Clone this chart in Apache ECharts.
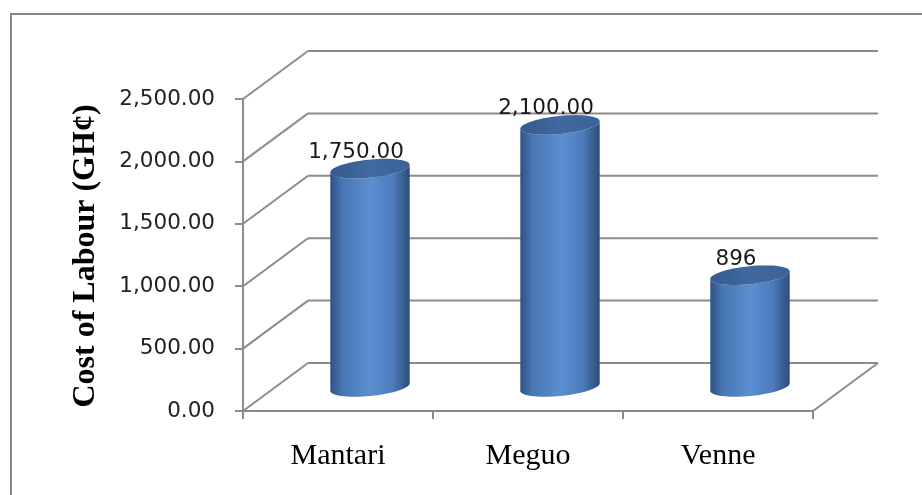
<!DOCTYPE html>
<html>
<head>
<meta charset="utf-8">
<script src="https://cdn.jsdelivr.net/npm/echarts@6/dist/echarts.min.js"></script>
<style>
html,body{margin:0;padding:0;background:#fff;}
#chart{width:922px;height:495px;}
</style>
</head>
<body>
<div id="chart"></div>
<script>
// ---- data ----
var categories = ['Mantari', 'Meguo', 'Venne'];
var costValues = [1750, 2100, 896];
var dataLabels = ['1,750.00', '2,100.00', '896'];
var yTicks = [0, 500, 1000, 1500, 2000, 2500];
var yTickLabels = ['0.00', '500.00', '1,000.00', '1,500.00', '2,000.00', '2,500.00'];
var yAxisTitle = 'Cost of Labour (GH\u00A2)';

// ---- 3D look parameters ----
var DEPTH_X = 65, DEPTH_Y = -48;
var GRID_COLOR = '#8c8c8c';

function ellipsePts(cx, cy, a, b, th, t0, t1, n) {
  var pts = [];
  var c = Math.cos(th), s = Math.sin(th);
  for (var i = 0; i <= n; i++) {
    var t = t0 + (t1 - t0) * i / n;
    var ex = a * Math.cos(t), ey = b * Math.sin(t);
    pts.push([cx + ex * c - ey * s, cy + ex * s + ey * c]);
  }
  return pts;
}

var chart = echarts.init(document.getElementById('chart'), null, {renderer: 'canvas'});

var option = {
  backgroundColor: '#ffffff',
  animation: false,
  graphic: [{
    type: 'rect',
    shape: {x: 11, y: 14, width: 930, height: 500},
    style: {fill: 'none', stroke: '#878787', lineWidth: 2},
    silent: true
  }, {
    type: 'text',
    x: 86, y: 256,
    rotation: Math.PI / 2,
    style: {
      text: yAxisTitle,
      font: 'bold 32px "Liberation Serif"',
      fill: '#000',
      align: 'center',
      verticalAlign: 'middle'
    }
  }],
  grid: {left: 243, right: 109, top: 99, bottom: 84},
  xAxis: {
    type: 'category',
    data: categories,
    boundaryGap: true,
    axisLine: {show: true, lineStyle: {color: GRID_COLOR, width: 2}},
    axisTick: {show: true, length: 8, lineStyle: {color: GRID_COLOR, width: 2}},
    axisLabel: {
      margin: 30,
      color: '#000',
      fontFamily: 'Liberation Serif',
      fontSize: 30
    },
    splitLine: {show: false}
  },
  yAxis: {
    type: 'value',
    min: 0, max: 2500, interval: 500,
    axisLine: {show: true, lineStyle: {color: GRID_COLOR, width: 2}},
    axisTick: {show: true, length: 8, lineStyle: {color: GRID_COLOR, width: 2}},
    axisLabel: {
      margin: 28,
      color: '#222',
      fontFamily: 'DejaVu Sans',
      fontSize: 21.5,
      formatter: function (v) {
        var i = yTicks.indexOf(v);
        return i >= 0 ? yTickLabels[i] : '';
      }
    },
    splitLine: {show: false}
  },
  series: [{
    // back wall gridlines + side wall diagonals + floor
    type: 'custom',
    z: 1,
    silent: true,
    data: yTicks.map(function (t) { return [0, t]; }),
    renderItem: function (params, api) {
      var cs = params.coordSys;
      var y = api.coord([0, api.value(1)])[1];
      var x0 = cs.x, x1 = cs.x + cs.width;
      var ls = {stroke: GRID_COLOR, lineWidth: 2};
      var children = [
        {type: 'line', shape: {x1: x0, y1: y, x2: x0 + DEPTH_X, y2: y + DEPTH_Y}, style: ls},
        {type: 'line', shape: {x1: x0 + DEPTH_X, y1: y + DEPTH_Y, x2: x1 + DEPTH_X, y2: y + DEPTH_Y}, style: ls}
      ];
      if (api.value(1) === 0) {
        children.push({type: 'line', shape: {x1: x1, y1: y, x2: x1 + DEPTH_X, y2: y + DEPTH_Y}, style: ls});
      }
      return {type: 'group', children: children};
    }
  }, {
    // cylinders
    type: 'custom',
    z: 3,
    data: costValues.map(function (v, i) { return [i, v]; }),
    renderItem: function (params, api) {
      var idx = api.value(0);
      var top = api.coord([idx, api.value(1)]);
      var base = api.coord([idx, 0]);
      var cx = top[0] + DEPTH_X / 2 - 0.5;
      var topY = top[1] + DEPTH_Y / 2;
      var botY = base[1] + DEPTH_Y / 2;
      var a = api.size([1, 0])[0] * 0.21;
      var b = 9;
      var th = -0.1;
      var topFront = ellipsePts(cx, topY, a, b, th, 0, Math.PI, 30);
      var botFront = ellipsePts(cx, botY, a, b, th, Math.PI, 0, 30);
      var bodyPts = botFront.concat(topFront);
      var cap = ellipsePts(cx, topY, a, b, th, 0, 2 * Math.PI, 60);
      var bodyGrad = new echarts.graphic.LinearGradient(0, 0, 1, 0, [
        {offset: 0, color: '#2f5283'},
        {offset: 0.15, color: '#4776b2'},
        {offset: 0.5, color: '#5b8fd2'},
        {offset: 0.78, color: '#4d7dbd'},
        {offset: 1, color: '#2d4c7a'}
      ]);
      var capGrad = new echarts.graphic.LinearGradient(0, 0, 1, 0, [
        {offset: 0, color: '#355a8e'},
        {offset: 0.5, color: '#4069a0'},
        {offset: 1, color: '#3b6298'}
      ]);
      return {
        type: 'group',
        children: [
          {type: 'polygon', shape: {points: bodyPts}, style: {fill: bodyGrad}},
          {type: 'polygon', shape: {points: cap}, style: {fill: capGrad}},
          {type: 'text', x: cx - 14, y: topY - 16,
            style: {text: dataLabels[params.dataIndex], font: '21.5px "DejaVu Sans"', fill: '#1a1a1a',
              align: 'center', verticalAlign: 'middle'}}
        ]
      };
    }
  }]
};
chart.setOption(option);
</script>
</body>
</html>
